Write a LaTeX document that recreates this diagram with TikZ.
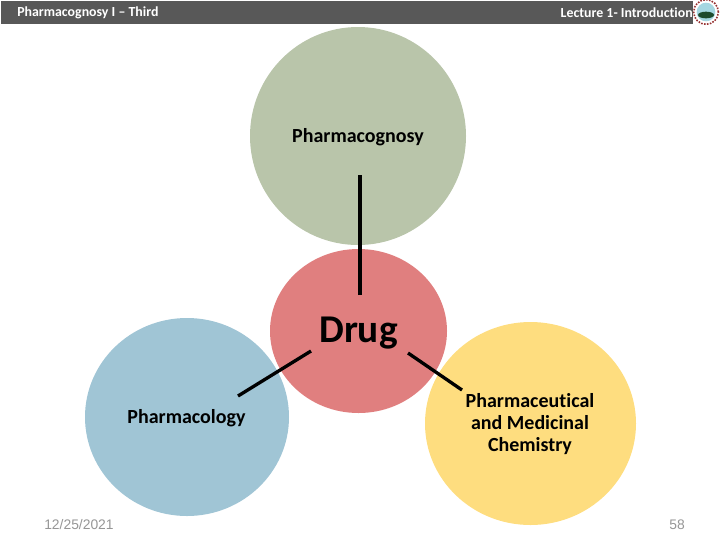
\documentclass[tikz,border=0pt]{standalone}
\usepackage{fontspec}
\setmainfont{Carlito}[Ligatures=NoCommon]
\newfontfamily\footfont{Liberation Sans}
\usepackage{xcolor}
\usetikzlibrary{shapes.geometric, positioning}
\definecolor{headgray}{RGB}{88,88,88}
\definecolor{sagegreen}{RGB}{185,197,170}
\definecolor{drugred}{RGB}{224,127,127}
\definecolor{paleblue}{RGB}{160,197,213}
\definecolor{paleyellow}{RGB}{254,221,127}
\definecolor{footgray}{RGB}{150,150,150}
\definecolor{logomaroon}{RGB}{150,50,50}
\definecolor{logosky}{RGB}{165,215,225}
\definecolor{logogreen}{RGB}{30,75,45}

\begin{document}
\begin{tikzpicture}[
    x=0.75pt, y=-0.75pt,
    topic/.style={ellipse, inner sep=0pt},
    toptext/.style={align=center, font=\bfseries\fontsize{15}{16.4}\selectfont, text=black},
    link/.style={line width=2.5pt, black},
    headtext/.style={text=white, font=\fontsize{10.4}{12}\selectfont\bfseries, inner sep=0pt},
    foottext/.style={text=footgray, font=\footfont\fontsize{10.4}{12}\selectfont, inner sep=0pt},
]
    \useasboundingbox (0,0) rectangle (720,540);

    % header bar
    \node[fill=headgray, minimum width=519pt, minimum height=17.25pt, inner sep=0pt, anchor=north west] (bar) at (1,1) {};
    \node[headtext, anchor=west] (course) at (17,13) {Pharmacognosy I – Third};
    \node[headtext, anchor=east] (lecture) at (693,13) {Lecture 1- Introduction};

    % circles
    \node[topic, fill=sagegreen, minimum width=162pt, minimum height=163.5pt] (cognosy) at (358,136) {};
    \node[topic, fill=paleblue, minimum width=153pt, minimum height=148.5pt] (cology) at (187,417) {};
    \node[topic, fill=paleyellow, minimum width=158.25pt, minimum height=152.25pt] (chem) at (530.5,423.5) {};
    \node[topic, fill=drugred, minimum width=132.75pt, minimum height=123pt] (drug) at (358.5,331) {};

    % labels
    \node[toptext] (cognosytext) at (358,137) {Pharmacognosy};
    \node[toptext] (cologytext) at (186.5,418) {Pharmacology};
    \node[toptext] (chemtext) at (530,424) {Pharmaceutical\\and Medicinal\\Chemistry};
    \node[toptext, font=\bfseries\fontsize{29.5}{32}\selectfont] (drugtext) at (358.5,333) {Drug};

    % connector ends
    \coordinate (topend) at (360,175);
    \coordinate (topstart) at (360,295);
    \coordinate (leftstart) at (311,351);
    \coordinate (leftend) at (238,396);
    \coordinate (rightstart) at (408,353);
    \coordinate (rightend) at (462,390);

    \draw[link] (topstart) -- (topend);
    \draw[link] (leftstart) -- (leftend);
    \draw[link] (rightstart) -- (rightend);

    % logo
    \node[circle, draw=logomaroon, densely dotted, line width=1.2pt, fill=white, minimum size=18.5pt, inner sep=0pt] (logo) at (706,12) {};
    \node[circle, fill=logosky, minimum size=14pt, inner sep=0pt] (logodisc) at (706,12) {};
    \node[ellipse, fill=logogreen, minimum width=12pt, minimum height=5pt, inner sep=0pt] (logohill) at (706,15) {};

    % footer
    \node[foottext, anchor=west] (date) at (44,524.5) {12/25/2021};
    \node[foottext, anchor=east] (page) at (685,524.5) {58};
\end{tikzpicture}
\end{document}
